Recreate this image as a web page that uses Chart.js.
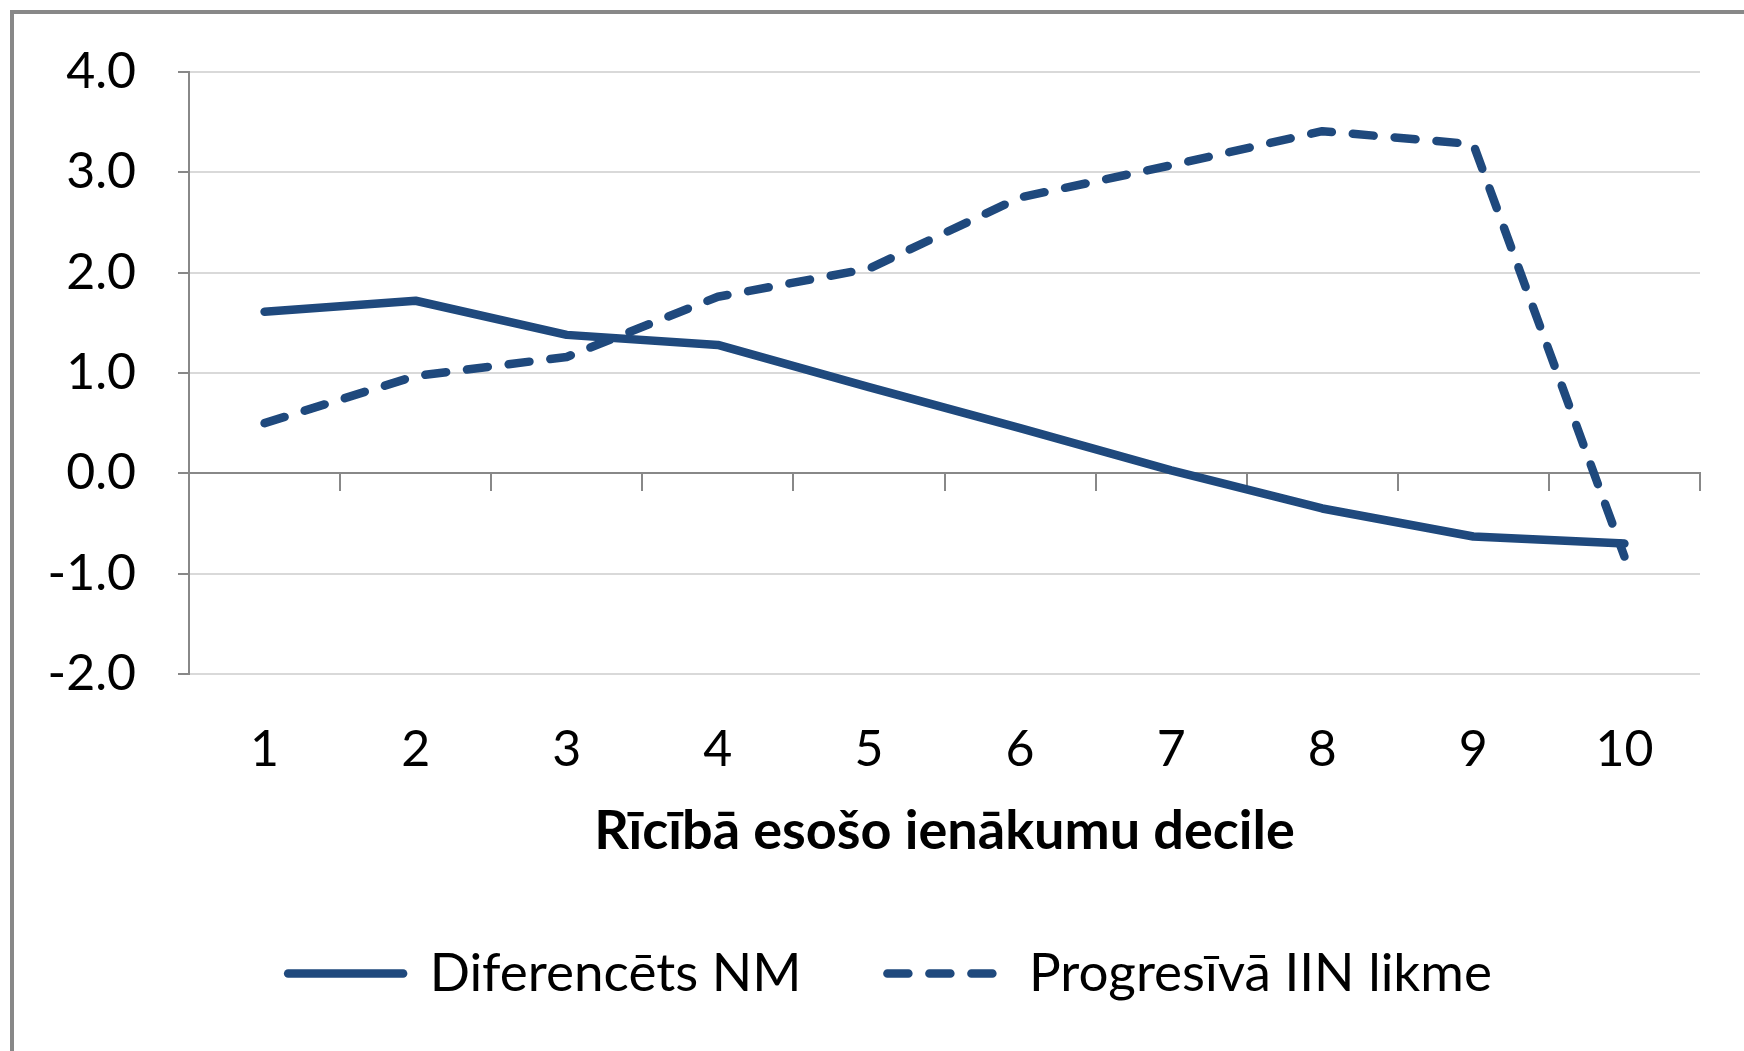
<!DOCTYPE html>
<html>
<head>
<meta charset="utf-8">
<script src="https://cdn.jsdelivr.net/npm/chart.js@4.4.0/dist/chart.umd.min.js"></script>
<style>
  html, body { margin: 0; padding: 0; background: #fff; }
  #frame { position: absolute; left: 10px; top: 10px; width: 1734px; height: 1041px;
           border-top: 4px solid #888; border-left: 4px solid #888; box-sizing: border-box; }
  #wrap { position: absolute; left: 0; top: 0; width: 1744px; height: 1051px; }
</style>
</head>
<body>
<div id="frame"></div>
<div id="wrap"><canvas id="chart" width="1744" height="1051"></canvas></div>
<script>
const deciles = ['1', '2', '3', '4', '5', '6', '7', '8', '9', '10'];
const diferencetsNM = [1.61, 1.72, 1.38, 1.28, 0.86, 0.45, 0.03, -0.35, -0.63, -0.70];
const progresivaIIN = [0.50, 0.97, 1.16, 1.76, 2.04, 2.75, 3.07, 3.41, 3.28, -0.83];
const yMin = -2, yMax = 4, yStep = 1;

const blue = '#1F497D';
Chart.defaults.font.family = 'Lato';

new Chart(document.getElementById('chart'), {
  type: 'line',
  data: {
    labels: deciles,
    datasets: [{
      label: 'Diferencēts NM',
      data: diferencetsNM,
      borderColor: blue,
      backgroundColor: blue,
      borderWidth: 8.5,
      pointRadius: 0,
      borderCapStyle: 'round',
      borderJoinStyle: 'round',
      tension: 0
    }, {
      label: 'Progresīvā IIN likme',
      data: progresivaIIN,
      borderColor: blue,
      backgroundColor: blue,
      borderWidth: 8.5,
      pointRadius: 0,
      borderDash: [21, 21],
      borderCapStyle: 'round',
      borderJoinStyle: 'round',
      tension: 0
    }]
  },
  options: {
    responsive: false,
    animation: false,
    layout: { padding: { left: 36, right: 0, top: 70, bottom: 41 } },
    plugins: {
      legend: {
        position: 'bottom',
        labels: {
          usePointStyle: true,
          pointStyle: 'line',
          pointStyleWidth: 115,
          padding: 86,
          color: '#000',
          font: { size: 53 },
          // point-style legend items lose the line dash, so take it from the dataset
          generateLabels: (chart) => Chart.defaults.plugins.legend.labels.generateLabels(chart).map((item) => {
            const ds = chart.data.datasets[item.datasetIndex];
            return { ...item, lineDash: ds.borderDash || [], lineCap: 'round', lineWidth: ds.borderWidth };
          })
        }
      },
      tooltip: { enabled: false }
    },
    scales: {
      x: {
        type: 'category',
        offset: true,
        grid: { display: false, drawTicks: false },
        border: { display: false },
        ticks: { color: '#000', font: { size: 50 }, padding: 46, autoSkip: false, maxRotation: 0 },
        title: {
          display: true,
          text: 'Rīcībā esošo ienākumu decile',
          color: '#000',
          font: { size: 54, weight: 'bold' },
          padding: { top: 0, bottom: -3 }
        },
        afterFit: (s) => { s.height = 187; }
      },
      // zero line with category tick marks, like the Excel horizontal axis
      zero: {
        type: 'category',
        axis: 'x',
        position: { y: 0 },
        offset: true,
        grid: { offset: true, drawOnChartArea: false, drawTicks: true, tickLength: 17, color: '#888', lineWidth: 2 },
        border: { color: '#888', width: 2 },
        ticks: { display: false }
      },
      y: {
        min: yMin,
        max: yMax,
        ticks: {
          stepSize: yStep,
          callback: (v) => v.toFixed(1),
          color: '#000',
          font: { size: 50 },
          padding: 42
        },
        grid: { color: '#d9d9d9', lineWidth: 2, tickLength: 11, tickColor: '#888' },
        border: { color: '#888', width: 2 },
        afterFit: (s) => { s.width = 153; }
      },
      // empty right-hand spacer so the plot ends where the reference does
      spacer: {
        type: 'linear',
        axis: 'y',
        position: 'right',
        grid: { display: false },
        border: { display: false },
        ticks: { display: false },
        afterFit: (s) => { s.width = 44; }
      }
    }
  }
});
</script>
</body>
</html>
